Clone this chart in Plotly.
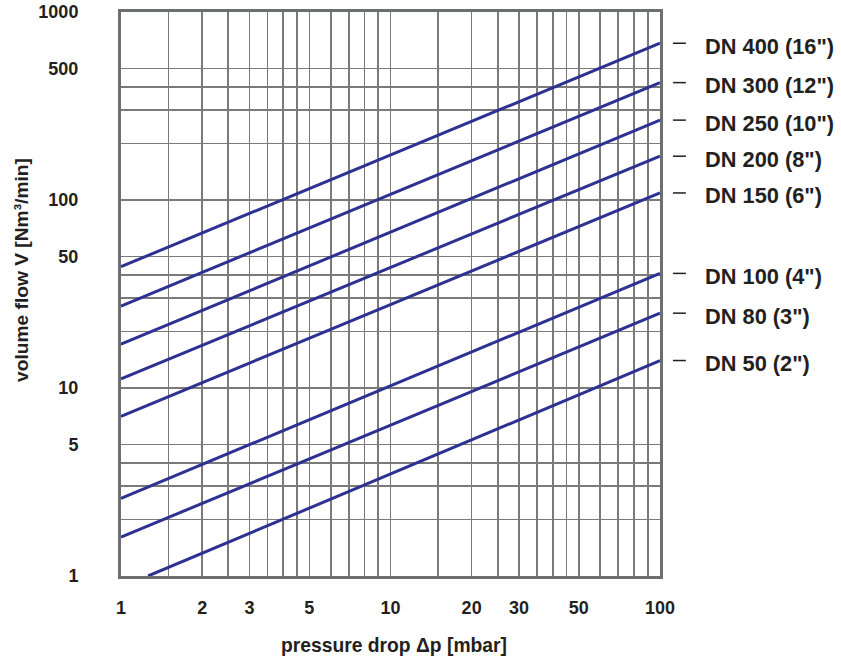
import plotly.graph_objects as go
import math

# ---- data ----
series_names = ['DN 400 (16")', 'DN 300 (12")', 'DN 250 (10")', 'DN 200 (8")',
                'DN 150 (6")', 'DN 100 (4")', 'DN 80 (3")', 'DN 50 (2")']
dp_start = [1, 1, 1, 1, 1, 1, 1, 1.26]
dp_end = [100, 100, 100, 100, 100, 100, 100, 100]
flow_start = [44.2, 27.3, 17.1, 11.2, 7.07, 2.59, 1.61, 1.0]
flow_end = [682, 421, 266, 171, 109, 40.7, 25.0, 14.0]

x_grid = [1, 1.5, 2, 2.5, 3, 3.5, 4, 4.5, 5, 6, 7, 8, 9, 10, 15, 20, 25, 30, 35,
          40, 45, 50, 60, 70, 80, 90, 100]
x_labeled = [1, 2, 3, 5, 10, 20, 30, 50, 100]
y_grid = [1, 2, 3, 4, 5, 10, 20, 30, 40, 50, 100, 200, 300, 400, 500, 1000]
y_labeled = [1, 5, 10, 50, 100, 500, 1000]

x_title = "pressure drop Δp [mbar]"
y_title = "volume flow V [Nm³/min]"

# ---- styles ----
LINE_COLOR = "#2e3192"
TEXT_COLOR = "#231f20"
GRID_COLOR = "#7a7a7a"
BORDER_COLOR = "#6d6e70"
FONT = "Liberation Sans"

fig = go.Figure()
for name, x0, x1, y0, y1 in zip(series_names, dp_start, dp_end, flow_start, flow_end):
    fig.add_trace(go.Scatter(x=[x0, x1], y=[y0, y1], mode="lines", name=name,
                             line=dict(color=LINE_COLOR, width=3), showlegend=False,
                             hoverinfo="skip"))

def fmt(v):
    return str(int(v)) if float(v).is_integer() else str(v)

axis_common = dict(
    type="log", showgrid=True, gridcolor=GRID_COLOR, gridwidth=1.7,
    showline=True, linecolor=BORDER_COLOR, linewidth=3, mirror=True,
    zeroline=False, ticks="", tickmode="array", automargin=False,
    ticklabeloverflow="allow",
    tickfont=dict(family=FONT, size=18, color=TEXT_COLOR, weight="bold"),
)

fig.update_xaxes(**axis_common,
                 range=[0, 2],
                 tickvals=x_grid,
                 ticktext=[fmt(v) if v in x_labeled else "" for v in x_grid],
                 ticklabelstandoff=13)
fig.update_yaxes(**axis_common,
                 range=[0, 3],
                 tickvals=y_grid,
                 ticktext=[fmt(v) if v in y_labeled else "" for v in y_grid],
                 ticklabelstandoff=36)

annotations = []
shapes = []
for name, y1 in zip(series_names, flow_end):
    shapes.append(dict(type="line", xref="paper", yref="y",
                       x0=1.024, x1=1.048, y0=y1, y1=y1,
                       line=dict(color=TEXT_COLOR, width=1.5)))
    annotations.append(dict(text=name, xref="paper", yref="y",
                            x=1.0798, y=math.log10(y1), xanchor="left", yanchor="middle",
                            yshift=-3, showarrow=False,
                            font=dict(family=FONT, size=21.8, color=TEXT_COLOR, weight="bold")))

annotations.append(dict(text=x_title, xref="paper", yref="paper", x=0.5065, y=-0.124,
                        xanchor="center", yanchor="middle", showarrow=False,
                        font=dict(family=FONT, size=19.3, color=TEXT_COLOR, weight="bold")))
annotations.append(dict(text=y_title, xref="paper", yref="paper", x=-0.1837, y=0.5426,
                        xanchor="center", yanchor="middle", showarrow=False, textangle=-90,
                        font=dict(family=FONT, size=19.2, color=TEXT_COLOR, weight="bold")))

fig.update_layout(
    width=841, height=661,
    margin=dict(l=121, r=181, t=12, b=85),
    paper_bgcolor="white", plot_bgcolor="white",
    annotations=annotations, shapes=shapes,
    showlegend=False,
)

fig.write_html("out.html",
               config={"displayModeBar": False, "staticPlot": True},
               post_script="document.body.style.margin='0';document.body.style.overflow='hidden';")
